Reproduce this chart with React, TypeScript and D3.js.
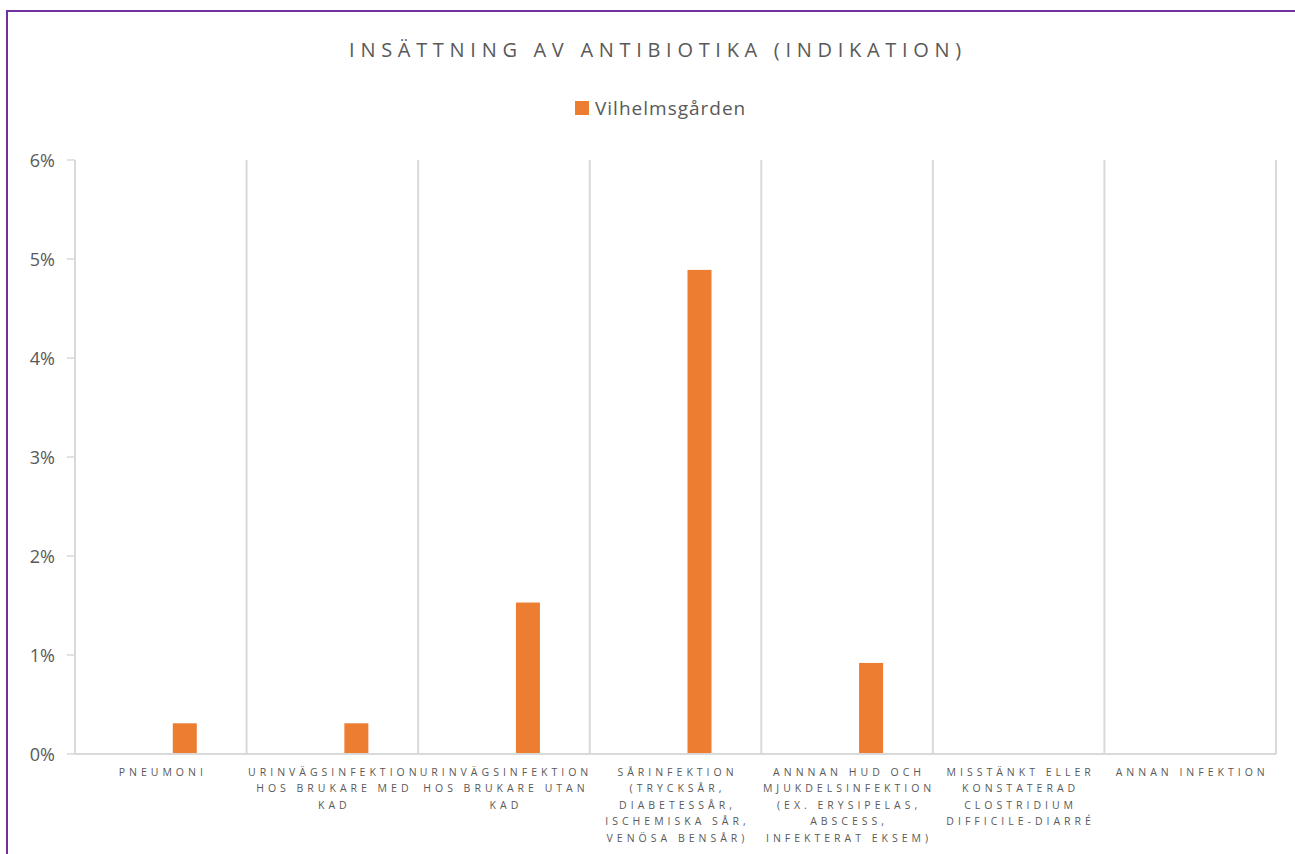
import React from "react";
import * as d3 from "d3";

const categories = [
  "Pneumoni",
  "Urinvägsinfektion hos brukare med KAD",
  "Urinvägsinfektion hos brukare utan KAD",
  "Sårinfektion (trycksår, diabetessår, ischemiska sår, venösa bensår)",
  "Annnan hud och mjukdelsinfektion (ex. erysipelas, abscess, infekterat eksem)",
  "Misstänkt eller konstaterad Clostridium difficile-diarré",
  "Annan infektion",
];

const categoryLines = [
  ["PNEUMONI"],
  ["URINVÄGSINFEKTION", "HOS BRUKARE MED", "KAD"],
  ["URINVÄGSINFEKTION", "HOS BRUKARE UTAN", "KAD"],
  ["SÅRINFEKTION", "(TRYCKSÅR,", "DIABETESSÅR,", "ISCHEMISKA SÅR,", "VENÖSA BENSÅR)"],
  ["ANNNAN HUD OCH", "MJUKDELSINFEKTION", "(EX. ERYSIPELAS,", "ABSCESS,", "INFEKTERAT EKSEM)"],
  ["MISSTÄNKT ELLER", "KONSTATERAD", "CLOSTRIDIUM", "DIFFICILE-DIARRÉ"],
  ["ANNAN INFEKTION"],
];

const seriesName = "Vilhelmsgården";
const values = [0.31, 0.31, 1.53, 4.89, 0.92, 0, 0];
const yTicks = [0, 1, 2, 3, 4, 5, 6];
const title = "INSÄTTNING AV ANTIBIOTIKA (INDIKATION)";

const W = 1295;
const H = 854;
const plot = { left: 75, right: 1276, top: 160, bottom: 754 };
const textColor = "#595959";
const gridColor = "#D9D9D9";
const barColor = "#ED7D31";
const font = "'Open Sans', 'DejaVu Sans', sans-serif";

export default function App() {
  const x = d3
    .scaleBand<string>()
    .domain(categories)
    .range([plot.left, plot.right])
    .padding(0);
  const step = x.step();
  // three series slots in each cluster; the shown series occupies the last
  const inner = d3
    .scaleBand<number>()
    .domain([0, 1, 2])
    .range([0, step])
    .paddingInner(0)
    .paddingOuter((step / 24 - 3) / 2);
  const slot = 2;
  const y = d3.scaleLinear().domain([0, 6]).range([plot.bottom, plot.top]);

  const boundaries = categories.map((c) => x(c) as number).concat([plot.right]);

  return (
    <svg
      width={W}
      height={H}
      style={{ position: "absolute", left: 0, top: 0, background: "#fff" }}
    >
      <rect x={0} y={0} width={W} height={H} fill="#fff" />
      {/* chart border */}
      <rect
        x={7}
        y={11}
        width={W + 20}
        height={H + 20}
        fill="none"
        stroke="#7030A0"
        strokeWidth={2}
      />
      {/* title */}
      <text
        x={658}
        y={57}
        textAnchor="middle"
        fontFamily={font}
        fontSize={20}
        letterSpacing={5.7}
        fill={textColor}
      >
        {title}
      </text>
      {/* legend */}
      <rect x={575} y={101} width={14} height={14} fill={barColor} />
      <text
        x={595}
        y={115}
        fontFamily={font}
        fontSize={19}
        letterSpacing={1}
        fill={textColor}
      >
        {seriesName}
      </text>
      {/* vertical gridlines */}
      {boundaries.map((bx, i) => (
        <line
          key={"g" + i}
          x1={bx}
          x2={bx}
          y1={plot.top}
          y2={plot.bottom}
          stroke={gridColor}
          strokeWidth={2}
        />
      ))}
      {/* y axis ticks */}
      {yTicks.map((t) => (
        <g key={"t" + t}>
          <line
            x1={plot.left - 8}
            x2={plot.left}
            y1={y(t)}
            y2={y(t)}
            stroke={gridColor}
            strokeWidth={1.5}
          />
          <text
            x={55}
            y={y(t) + 6.5}
            textAnchor="end"
            fontFamily={font}
            fontSize={18}
            fill={textColor}
          >
            {t + "%"}
          </text>
        </g>
      ))}
      {/* bars */}
      {values.map((v, i) =>
        v > 0 ? (
          <rect
            key={"b" + i}
            x={(x(categories[i]) as number) + (inner(slot) as number)}
            y={y(v)}
            width={inner.bandwidth()}
            height={y(0) - y(v)}
            fill={barColor}
          />
        ) : null
      )}
      {/* x axis line */}
      <line
        x1={plot.left}
        x2={plot.right}
        y1={plot.bottom}
        y2={plot.bottom}
        stroke={gridColor}
        strokeWidth={2}
      />
      {/* category labels */}
      {categories.map((c, i) => (
        <text
          key={"c" + i}
          textAnchor="middle"
          fontFamily={font}
          fontSize={10.5}
          letterSpacing={4}
          fill={textColor}
        >
          {categoryLines[i].map((ln, j) => (
            <tspan
              key={j}
              x={(x(c) as number) + step / 2 + 2}
              y={776 + j * 16.4}
            >
              {ln}
            </tspan>
          ))}
        </text>
      ))}
    </svg>
  );
}
